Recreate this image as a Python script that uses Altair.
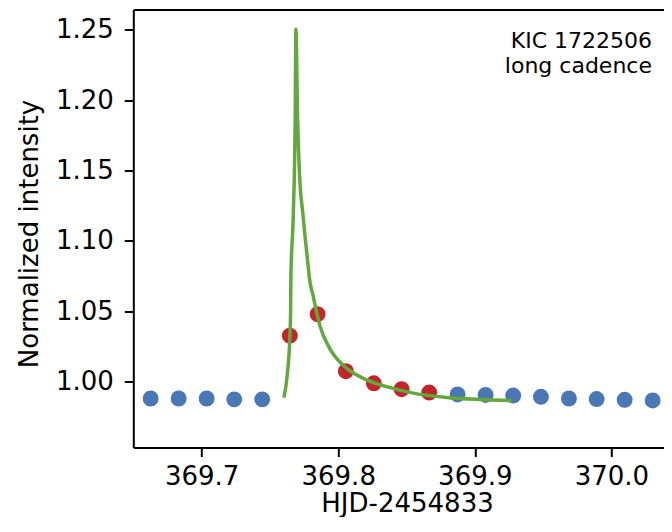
import altair as alt
import pandas as pd

# --- data ---
quiet_before_time = [369.6627, 369.6832, 369.7037, 369.7239, 369.7444]
quiet_before_flux = [0.9881, 0.9881, 0.9881, 0.9875, 0.9875]

flare_time = [369.7646, 369.7849, 369.8056, 369.8261, 369.8464, 369.8666]
flare_flux = [1.0327, 1.0480, 1.0075, 0.9989, 0.9947, 0.9923]

quiet_after_time = [369.8874, 369.9079, 369.9281, 369.9484, 369.9689,
                    369.9892, 370.0097, 370.0302, 370.0507]
quiet_after_flux = [0.9910, 0.9906, 0.9902, 0.9893, 0.9881,
                    0.9877, 0.9872, 0.9867, 0.9865]

model_time = [369.76025, 369.76266, 369.76464, 369.76515, 369.76537, 369.76706,
              369.76852, 369.76903, 369.77028, 369.77145, 369.77438, 369.77804,
              369.77877, 369.78170, 369.78660, 369.79392, 369.80366, 369.81830,
              369.83543, 369.85490, 369.87936, 369.90373, 369.92694]
model_flux = [0.9888, 1.0047, 1.0327, 1.0491, 1.0748, 1.1169,
              1.1870, 1.2506, 1.1870, 1.1520, 1.1169, 1.0818,
              1.0748, 1.0608, 1.0398, 1.0234, 1.0117, 1.0024,
              0.9965, 0.9919, 0.9888, 0.9874, 0.9867]

label_lines = ["KIC 1722506", "long cadence"]
label_x = [370.0297]
label_y = [1.2368]

x_ticks = [369.7, 369.8, 369.9, 370.0]
y_ticks = [1.00, 1.05, 1.10, 1.15, 1.20, 1.25]
x_domain = [369.65, 370.0385]
y_domain = [0.9533, 1.2644]

group_names = ["quiet", "flare"]
group_colors = ["#4a78b6", "#c1272a"]
model_color = "#62a83c"

# --- tables ---
pts = pd.DataFrame({
    "t": quiet_before_time + flare_time + quiet_after_time,
    "f": quiet_before_flux + flare_flux + quiet_after_flux,
    "g": ["quiet"] * len(quiet_before_time) + ["flare"] * len(flare_time)
         + ["quiet"] * len(quiet_after_time),
})
model = pd.DataFrame({"t": model_time, "f": model_flux, "o": list(range(len(model_time)))})
lab = pd.DataFrame({"t": label_x, "f": label_y})

FONT = "DejaVu Sans"
xs = alt.Scale(domain=x_domain, nice=False, zero=False)
ys = alt.Scale(domain=y_domain, nice=False, zero=False)

y_axis = alt.Axis(values=y_ticks, format=".2f", title="Normalized intensity",
                  labelPadding=11, titleX=-96, titleY=224, titleBaseline="alphabetic")

points = alt.Chart(pts).mark_circle(size=254, opacity=1, clip=True).encode(
    x=alt.X("t:Q", scale=xs, axis=alt.Axis(
        orient="bottom", values=x_ticks, format=".1f", title="HJD-2454833",
        labelBaseline="alphabetic", labelPadding=27.5,
        titleX=273.7, titleY=64, titleBaseline="alphabetic")),
    y=alt.Y("f:Q", scale=ys, axis=y_axis),
    color=alt.Color("g:N", scale=alt.Scale(domain=group_names, range=group_colors), legend=None),
)

line = alt.Chart(model).mark_line(color=model_color, strokeWidth=3.5, clip=True,
                                  interpolate="monotone").encode(
    x=alt.X("t:Q", scale=xs, axis=alt.Axis(orient="top", labels=False, ticks=False,
                                           title=None, domain=True)),
    y=alt.Y("f:Q", scale=ys, axis=y_axis),
    order="o:Q",
)

text = alt.Chart(lab).mark_text(
    text=label_lines, align="right", baseline="alphabetic",
    font=FONT, fontSize=22, lineHeight=24.5, color="#000000",
).encode(
    x=alt.X("t:Q", scale=xs, axis=None),
    y=alt.Y("f:Q", scale=ys, axis=y_axis),
)

chart = alt.layer(points, line, text).resolve_axis(x="independent").properties(
    width=530.7, height=438,
    autosize=alt.AutoSizeParams(type="none"),
    padding={"left": 125.3, "top": 1.5, "right": 0, "bottom": 69.5},
).configure_view(stroke=None).configure_axis(
    grid=False, domainColor="#000000", domainWidth=2,
    tickColor="#000000", tickWidth=2, tickSize=9,
    labelFont=FONT, labelFontSize=26, labelColor="#000000",
    titleFont=FONT, titleFontSize=26, titleColor="#000000", titleFontWeight="normal",
)

chart.save("out.html", embed_options={"renderer": "svg", "actions": False})
